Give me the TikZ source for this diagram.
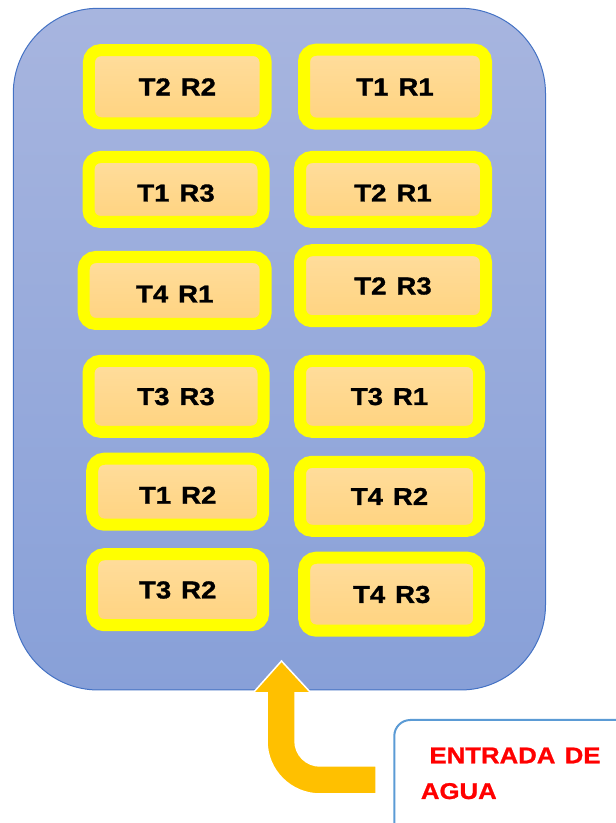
\documentclass[tikz,border=0pt]{standalone}
\usepackage{fontspec}
\newfontfamily\boxfont{Liberation Sans}[FakeStretch=1.13,WordSpace=1.3,FakeBold=1.2]
\newfontfamily\lblfont{Liberation Sans}[FakeStretch=1.13,WordSpace=1.3,FakeBold=1.0]
\definecolor{bigtop}{RGB}{167,181,223}
\definecolor{bigbot}{RGB}{136,160,216}
\definecolor{bigline}{RGB}{68,114,196}
\definecolor{boxtop}{RGB}{255,221,157}
\definecolor{boxbot}{RGB}{255,211,127}
\definecolor{yell}{RGB}{255,255,0}
\definecolor{arrowc}{RGB}{255,192,0}
\definecolor{lblline}{RGB}{91,155,213}
\definecolor{redtxt}{RGB}{255,0,0}
\tikzset{
  tbox/.style={draw=yell, line width=12pt, rounded corners=12pt,
    top color=boxtop, bottom color=boxbot, inner sep=0pt,
    text height=17.4pt, text depth=0pt,
    font=\boxfont\bfseries\fontsize{24.4}{26}\selectfont},
  low/.style={text height=24pt},
  lbltext/.style={inner sep=0pt, anchor=base west, text=redtxt,
    font=\lblfont\bfseries\fontsize{22.8}{26}\selectfont},
}
\begin{document}
\begin{tikzpicture}[x=1pt,y=1pt]
\useasboundingbox (0,0) rectangle (616,823);
\clip (0,0) rectangle (616,823);
% container
\path[top color=bigtop, bottom color=bigbot, draw=bigline, line width=1pt,
  rounded corners=85pt] (13.3,814.7) rectangle (545.5,133);
% boxes
\node[tbox, minimum width=176.7pt, minimum height=73.3pt] (b1) at (177.3,736.3) {T2 R2};
\node[tbox, minimum width=182pt, minimum height=74pt] (b2) at (395,736.3) {T1 R1};
\node[tbox, low, minimum width=175pt, minimum height=65pt] (b3) at (176,633.5) {T1 R3};
\node[tbox, low, minimum width=186pt, minimum height=65pt] (b4) at (393,633.5) {T2 R1};
\node[tbox, low, minimum width=182pt, minimum height=67pt] (b5) at (174.7,532.5) {T4 R1};
\node[tbox, minimum width=186pt, minimum height=71pt] (b6) at (393,537.3) {T2 R3};
\node[tbox, minimum width=175pt, minimum height=71pt] (b7) at (176,426.7) {T3 R3};
\node[tbox, minimum width=179pt, minimum height=71pt] (b8) at (389.5,426.7) {T3 R1};
\node[tbox, low, minimum width=171pt, minimum height=66pt] (b9) at (177.7,331.3) {T1 R2};
\node[tbox, minimum width=179pt, minimum height=69pt] (b10) at (389.5,326.7) {T4 R2};
\node[tbox, minimum width=171pt, minimum height=71pt] (b11) at (177.7,233.3) {T3 R2};
\node[tbox, minimum width=175pt, minimum height=73pt] (b12) at (391.7,228.8) {T4 R3};
% inlet arrow
\coordinate (tip) at (281.5,162);
\path[fill=arrowc, draw=white, line width=1.5pt, line join=miter]
  (tip) -- (311,130) -- (295,130) -- (295,82)
  arc[start angle=180, end angle=270, radius=25] -- (376,57) -- (376,29) -- (320,29)
  arc[start angle=270, end angle=180, radius=53] -- (267,130) -- (253,130) -- cycle;
% label box
\node[draw=lblline, line width=2pt, fill=white, rounded corners=16pt,
  minimum width=260pt, minimum height=140pt, anchor=north west, inner sep=0pt]
  (lbl) at (393.3,104) {};
\node[lbltext] (t1) at (429.3,59.7) {ENTRADA DE};
\node[lbltext] (t2) at (420.7,24) {AGUA};
\end{tikzpicture}
\end{document}
